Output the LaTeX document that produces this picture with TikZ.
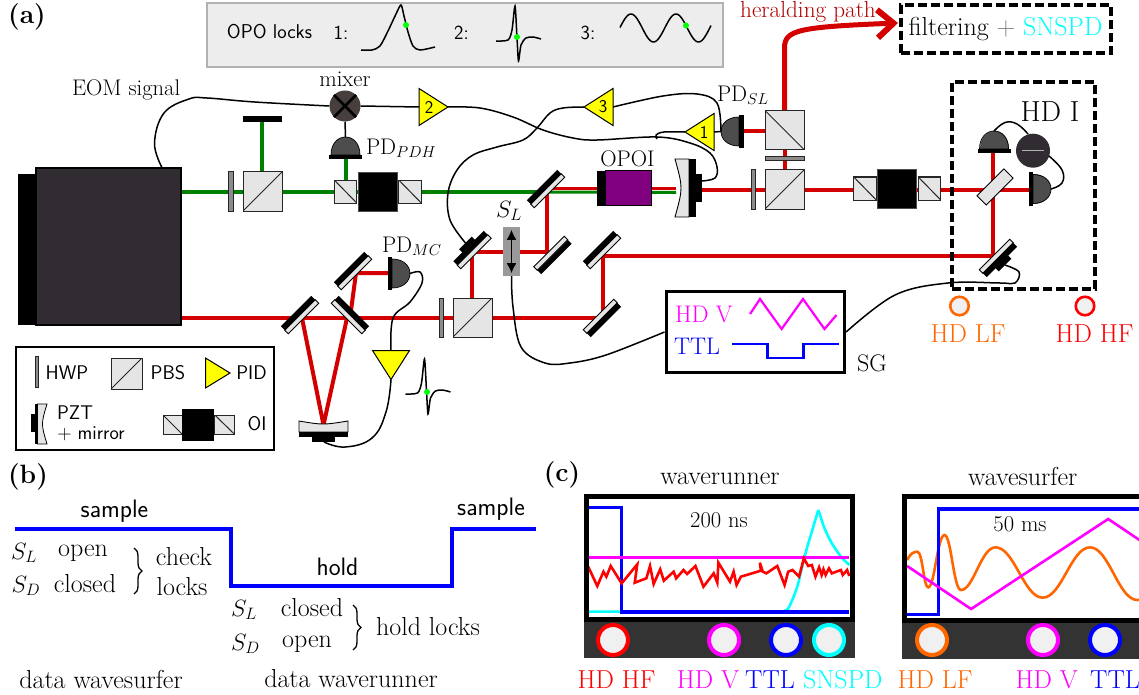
\RequirePackage{fix-cm}
\documentclass[tikz,border=0pt]{standalone}
\usetikzlibrary{calc,decorations.pathreplacing,arrows.meta}
\newcommand\fz[1]{\fontsize{#1}{#1}\selectfont}
\definecolor{rbeam}{HTML}{D40000}
\definecolor{gbeam}{HTML}{007F00}
\definecolor{cubeg}{HTML}{E5E5E5}
\definecolor{dome}{HTML}{4D4D4D}
\definecolor{orng}{HTML}{FF6600}
\definecolor{herald}{HTML}{B00000}
\definecolor{dotg}{HTML}{00FF00}
\definecolor{mixerc}{HTML}{483E3E}
\definecolor{laserc}{HTML}{302C32}
\definecolor{oporp}{HTML}{800080}
\definecolor{cyn}{RGB}{0,255,255}
\definecolor{mag}{RGB}{255,0,255}
\definecolor{yel}{RGB}{255,255,0}
\definecolor{blu}{RGB}{0,0,255}
\definecolor{rd}{RGB}{255,0,0}
\tikzset{
  redbeam/.style={draw=rbeam,line width=4pt},
  greenbeam/.style={draw=gbeam,line width=4pt},
  wire/.style={draw=black,line width=1.5pt},
  txt/.style={inner sep=0pt,outer sep=0pt},
  sr/.style={txt,font=\fz{22.6}},
  srb/.style={txt,font=\fz{26}},
  smath/.style={txt,font=\fz{23.6}},
  sn/.style={txt,font=\sffamily\fz{19.8}},
  cube/.style={draw=black!85,line width=1pt,fill=cubeg,inner sep=0pt},
  pbsa/.style={cube,minimum size=39pt,path picture={\draw[line width=1pt] (path picture bounding box.south west)--(path picture bounding box.north east);}},
  pbsb/.style={cube,minimum size=39pt,path picture={\draw[line width=1pt] (path picture bounding box.north west)--(path picture bounding box.south east);}},
  oicube/.style={cube,minimum width=22.5pt,minimum height=23pt,path picture={\draw[line width=1pt] (path picture bounding box.north west)--(path picture bounding box.south east);}},
  oibody/.style={fill=black,draw=black!70,line width=.6pt,minimum width=39.5pt,minimum height=39pt,inner sep=0pt},
  waveplate/.style={draw=black!85,line width=1pt,fill=black!45,inner sep=0pt},
  dashbox/.style={draw=black,line width=4pt,dash pattern=on 9pt off 4pt,inner sep=0pt},
  trace/.style={line width=2.6pt},
  bluetrace/.style={draw=blu,line width=3.2pt},
  lockcurve/.style={draw=black,line width=1.5pt},
  gdot/.style={fill=dotg,circle,inner sep=0pt,minimum size=6pt},
  port/.style={circle,fill=black!6,draw=#1,line width=4pt,minimum size=30pt,inner sep=0pt},
  sport/.style={circle,fill=black!6,draw=#1,line width=2.6pt,minimum size=18.5pt,inner sep=0pt},
}
% name x y angle side(+1/-1)
\newcommand\mirrorm[5]{\begin{scope}[shift={(#2,#3)},rotate=#4]
  \fill[black] (-21.5,0) rectangle (21.5,{#5*5.5});
  \filldraw[fill=cubeg,draw=black,line width=.9pt] (-21.5,0) rectangle (21.5,{-#5*5});
  \coordinate (#1) at (0,0);
\end{scope}}
\newcommand\mirrorp[5]{\begin{scope}[shift={(#2,#3)},rotate=#4]
  \fill[black] (-9,{#5*5}) rectangle (9,{#5*10});
  \coordinate (#1-p) at (0,{#5*10});
\end{scope}\mirrorm{#1}{#2}{#3}{#4}{#5}}
% photodiode
\newcommand\pdiode[4]{\begin{scope}[shift={(#2,#3)},rotate=#4]
  \filldraw[fill=dome,draw=black,line width=.7pt] (-14.5,0) .. controls (-14.5,-24) and (14.5,-24) .. (14.5,0) -- cycle;
  \fill[black] (-16.5,0) rectangle (16.5,4.5);
  \coordinate (#1) at (0,0);\coordinate (#1-t) at (0,-18);\coordinate (#1-b) at (0,4.5);
\end{scope}}
% PID amplifier
\newcommand\pidamp[5]{\begin{scope}[shift={(#2,#3)},rotate=#4]
  \filldraw[fill=yel,draw=black,line width=1pt,line join=miter] (0,0) -- (-29,-18.5) -- (-29,18.5) -- cycle;
  \coordinate (#1) at (0,0);\coordinate (#1-b) at (-29,0);
  \node[txt,font=\sffamily\fz{18}] (#1-l) at (-19,0) {#5};
\end{scope}}
\newcommand\errcurve[2]{\begin{scope}[shift={(#1,#2)}]
  \draw[lockcurve] plot[smooth,tension=.45] coordinates {(0,0) (12,-1) (16,-11) (19,-35) (21,-3) (22.5,20) (25,4) (30,-3) (37,-4) (45,-2)};
\end{scope}}
\begin{document}
\begin{tikzpicture}[x=1pt,y=-1pt]
\useasboundingbox (0,0) rectangle (1139,695);
\begin{scope}
\clip (0,0) rectangle (1139,695);
%--- panel labels
\node[txt,font=\bfseries\fz{26.5}] (la) at (27,17) {(a)};
\node[txt,font=\bfseries\fz{26.5}] (lb) at (28,477) {(b)};
\node[txt,font=\bfseries\fz{26.5}] (lc) at (562,475) {(c)};
%--- OPO lock box
\node[draw=black!30,fill=black!7,line width=1.2pt,minimum width=516pt,minimum height=64pt,inner sep=0pt] (lockbox) at (465,35) {};
\node[txt,font=\sffamily\fz{20}] (opolocks) at (269.5,32) {OPO locks};
\node[txt,font=\sffamily\fz{20}] (l1) at (341,33) {1:};
\node[txt,font=\sffamily\fz{20}] (l2) at (461.5,33) {2:};
\node[txt,font=\sffamily\fz{20}] (l3) at (588,33) {3:};
\draw[lockcurve] plot[smooth,tension=.45] coordinates {(361,50) (372,50) (380,46) (388,31) (396,14) (401,5) (404,16) (408,32) (413,46) (420,50) (435,47)};
\errcurve{496}{41}
\draw[lockcurve] plot[domain=620:711,samples=70] (\x,{28-14*cos(8*(\x-631))});
\node[gdot] (d1) at (406,25) {};
\node[gdot] (d2) at (517,37) {};
\node[gdot] (d3) at (686,25.5) {};
%--- free beam coordinates
\coordinate (lg) at (181,192);
\coordinate (lr) at (181,318);
\coordinate (dumpc) at (262,122);
\coordinate (mg) at (547,192);
\coordinate (mr) at (547,188);
\coordinate (c1) at (546.7,252);
\coordinate (c2) at (472,252);
\coordinate (c3) at (603,255.5);
\coordinate (c4) at (603,318);
\coordinate (c5) at (993,255.5);
\coordinate (c6) at (356,273);
\coordinate (mca) at (302,318);
\coordinate (mcb) at (347,318);
\coordinate (mcc) at (323.5,425);
\coordinate (mcd) at (358,273);
\coordinate (opol) at (676,188);
\coordinate (opog) at (676,192.5);
\coordinate (hdr) at (1029,189.5);
%--- beams
\draw[greenbeam] (lg) -- (mg);
\draw[greenbeam] (262,192) -- (dumpc);
\draw[greenbeam] (345.5,192) -- (345.5,159);
\draw[draw=gbeam,line width=3pt] (mg) -- (opog);
\draw[draw=rbeam,line width=3pt] (mr) -- (opol);
\draw[redbeam] (546.7,188) -- (c1) -- (c2) -- (472,300);
\draw[redbeam] (lr) -- (c4) -- (c3) -- (c5) -- (993,153);
\draw[redbeam,line width=4pt] (mca) -- (mcc) -- (mcb);
\draw[redbeam] (350,318) -- (c6) -- (390,273);
\draw[redbeam] (696,189.5) -- (hdr);
\draw[redbeam] (784.5,172) -- (784.5,148);
\draw[redbeam] (743,131.5) -- (766,131.5);
\draw[draw=rbeam,line width=5pt,-{Straight Barb[length=16pt,width=28pt,line width=6pt]}] (784.5,112) -- (784.5,48) .. controls (784.5,30) and (798,27) .. (898,23);
%--- laser
\fill[black] (18,174) rectangle (40,325);
\node[fill=laserc,draw=black,line width=1.6pt,minimum width=145pt,minimum height=157pt,inner sep=0pt] (laser) at (108.5,246.5) {};
%--- upper green line parts
\node[waveplate,minimum width=5pt,minimum height=39pt] (hwp1) at (230.5,191.5) {};
\node[pbsa] (pbs1) at (262.5,191.5) {};
\node[fill=black,minimum width=39pt,minimum height=6.5pt,inner sep=0pt] (dump) at (262.5,119) {};
\node[oicube] (oi1a) at (345.5,191.5) {};
\node[oicube] (oi1c) at (410,191.5) {};
\node[oibody] (oi1b) at (377.75,191.5) {};
\pdiode{pdh}{345.5}{155}{0}
\node[circle,fill=mixerc,draw=none,minimum size=31pt,inner sep=0pt] (mixer) at (345,106) {};
\draw[line width=2.6pt] (mixer.north west) -- (mixer.south east);
\draw[line width=2.6pt] (mixer.north east) -- (mixer.south west);
\draw[wire] (mixer.south) -- (pdh-t);
\node[sr] (mixt) at (345,79) {mixer};
\node[sr,anchor=west] (pdht) at (366,148) {PD$_{PDH}$};
\node[sr,anchor=west] (eom) at (72,90) {EOM signal};
%--- mirrors
\mirrorm{m1}{546}{189}{45}{-1}
\mirrorm{m2}{552.5}{255}{45}{1}
\mirrorm{m3}{602}{250}{45}{-1}
\mirrorm{m4}{602}{318}{45}{1}
\mirrorp{m5}{472.5}{250}{45}{-1}
\mirrorm{mca1}{300}{315}{45}{-1}
\mirrorm{mcb1}{350}{315}{-45}{-1}
\mirrorm{mcc1}{353}{271}{45}{-1}
\mirrorp{m6}{998}{258}{45}{1}
%--- shutter
\node[fill=black!40,minimum width=17pt,minimum height=49pt,inner sep=0pt] (sl) at (511.5,251.5) {};
\draw[line width=1.6pt,{Latex[length=10pt,width=10pt]}-{Latex[length=10pt,width=10pt]}] ($(sl.north)+(0,3)$) -- ($(sl.south)+(0,-3)$);
\node[smath] (slt) at (509,211) {$S_L$};
%--- PBS on lower line
\node[waveplate,minimum width=4pt,minimum height=39pt] (hwp2) at (441,317.5) {};
\node[pbsa] (pbs2) at (472.5,317.5) {};
%--- mode cleaner
\pdiode{pdmc}{392}{273.5}{-90}
\node[sr,anchor=west] (pdmct) at (382,246) {PD$_{MC}$};
\filldraw[fill=cubeg,draw=black,line width=.9pt] (299,421) .. controls (323,425) .. (348,421) -- (348,432) -- (299,432) -- cycle;
\fill[black] (299,432) rectangle (348,437);
\fill[black] (312,437) rectangle (335,442);
\coordinate (mcpzt) at (324,442);
\pidamp{pidmc}{391}{379.5}{-90}{}
\errcurve{405.5}{394}
\node[gdot] (d4) at (427,392) {};
%--- OPO
\node[fill=black,minimum width=8pt,minimum height=35pt,inner sep=0pt] (opob) at (601,188.2) {};
\node[fill=oporp,draw=black,line width=1pt,minimum width=46pt,minimum height=35pt,inner sep=0pt] (opo) at (628,188.2) {};
\node[sr] (opot) at (627.5,159) {OPOI};
\filldraw[fill=cubeg,draw=black,line width=.9pt] (675,159) .. controls (683,188) .. (675,217) -- (689,217) -- (689,159) -- cycle;
\fill[black] (689,159) rectangle (696,217);
\fill[black] (696,174) rectangle (702,202);
\coordinate (opopzt) at (702,181);
%--- wires below the amplifiers
\draw[wire] plot[smooth,tension=.6] coordinates {(448,107) (480,108) (513,117) (543,130) (573,138) (597,140) (657,137) (690,143) (710,153) (717,167) (715,178) (opopzt)};
\draw[wire] plot[smooth,tension=.6] coordinates {(685,132) (664,132) (656,135) (657,139)};
\draw[wire] plot[smooth,tension=.6] coordinates {(584,107) (563,108) (550,113) (537,128) (523,140) (497,147) (473,155) (457,170) (448,193) (450,220) (m5-p)};
%--- right optical table
\pdiode{pdsl}{739}{131.5}{90}
\node[sr,anchor=west] (pdslt) at (717,95) {PD$_{SL}$};
\pidamp{pid1}{685}{132}{180}{1}
\pidamp{pid3}{584}{107}{180}{3}
\pidamp{pid2}{448}{107}{0}{2}
\node[pbsb] (pbs3) at (784.5,130) {};
\node[waveplate,minimum width=39pt,minimum height=4.5pt] (hwp3) at (784.5,158.5) {};
\node[pbsa] (pbs4) at (784.5,189.5) {};
\node[waveplate,minimum width=4pt,minimum height=39pt] (hwp4) at (753,189.5) {};
\node[oicube] (oi2a) at (865,188.5) {};
\node[oicube] (oi2c) at (929.5,188.5) {};
\node[oibody] (oi2b) at (896.75,188.5) {};
%--- HD I
\node[dashbox,minimum width=143pt,minimum height=207pt] (hdbox) at (1023.5,185.5) {};
\node[txt,font=\fz{29}] (hdt) at (1050,112) {HD I};
\pdiode{pdt}{994}{149}{0}
\pdiode{pdr}{1033}{189}{-90}
\begin{scope}[shift={(995,187)},rotate=45]
  \filldraw[fill=cubeg,draw=black,line width=.9pt] (-19,-6.5) rectangle (19,6.5);
  \coordinate (hdbs) at (0,0);
\end{scope}
\node[circle,fill=laserc,draw=none,minimum size=34pt,inner sep=0pt] (diff) at (1033,150.7) {};
\draw[draw=black!30,line width=1.5pt] ($(diff.center)+(-11,0)$) -- ($(diff.center)+(11,0)$);
%--- filter box
\node[dashbox,minimum width=210pt,minimum height=48pt,font=\fz{26}] (filt) at (1005.5,29) {filtering $\textcolor{gray}{+}$ \textcolor{cyn}{SNSPD}};
\node[txt,font=\fz{23.2},text=herald] (her) at (808,12) {heralding path};
%--- SG
\node[draw=black,line width=3.6pt,minimum width=178pt,minimum height=81pt,inner sep=0pt] (sg) at (755.3,332) {};
\node[txt,font=\fz{24},text=mag,anchor=west] (sghd) at (675,314) {HD V};
\node[txt,font=\fz{24},text=blu,anchor=west] (sgttl) at (674,346) {TTL};
\node[txt,font=\fz{24}] (sgt) at (872,363) {SG};
\draw[mag,line width=2.2pt] (750,314) -- (760,299) -- (781.6,329) -- (803,299) -- (824.5,329) -- (836.5,315);
\draw[blu,line width=2.2pt] (732,344) -- (767.5,344) -- (767.5,358) -- (803.5,358) -- (803.5,344) -- (839,344);
%--- HD ports
\node[sport=orng] (plf) at (959.5,306) {};
\node[sport=rd] (phf) at (1085,306) {};
\node[srb,text=orng] (plft) at (968,334) {HD LF};
\node[srb,text=rd] (phft) at (1094.5,334) {HD HF};
%--- legend
\node[draw=black,line width=1.8pt,minimum width=258pt,minimum height=103pt,inner sep=0pt] (leg) at (145.3,398.5) {};
\node[waveplate,minimum width=3pt,minimum height=31pt] (lh) at (36.5,371.5) {};
\node[sn] (lht) at (67,373) {HWP};
\node[pbsa,minimum size=31pt] (lp) at (126.5,373.5) {};
\node[sn] (lpt) at (168,373) {PBS};
\filldraw[fill=yel,draw=black,line width=1pt] (230,373) -- (205.5,358) -- (205.5,388) -- cycle;
\node[sn] (lpid) at (251.5,373) {PID};
\filldraw[fill=cubeg,draw=black,line width=.8pt] (47,404) .. controls (41,424) .. (47,444) -- (37.5,444) -- (37.5,404) -- cycle;
\fill[black] (35,404) rectangle (37.5,444);
\fill[black] (31,414) rectangle (35,432);
\node[sn] (lpz) at (75,413) {PZT};
\node[sn] (lmi) at (91,434) {$+$ mirror};
\node[oicube,minimum width=19pt,minimum height=19pt] (loa) at (172.5,424.5) {};
\node[oicube,minimum width=19.5pt,minimum height=19pt] (loc) at (224.5,424.5) {};
\node[oibody,minimum width=32.5pt,minimum height=32pt,draw=none] (lob) at (198.2,425) {};
\node[sn] (lot) at (257,424) {OI};
%--- wires
\coordinate (lw) at ($(laser.north east)+(-20,0)$);
\draw[wire] plot[smooth,tension=.65] coordinates {(lw) (154.5,143) (164,113) (189,99) (207,98) (254.5,102) (mixer.west)};
\draw[wire] (mixer.east) -- (pid2-b);
\draw[wire] plot[smooth,tension=.6] coordinates {(pid3-b) (663,96) (697,94) (717,103) (pdsl-t)};
\draw[wire] (pid1-b) -- (pdsl-t);
\draw[wire] plot[smooth,tension=.6] coordinates {(pdmc-t) (420,272) (422,283) (410,302) (393,318) (pidmc-b)};
\draw[wire] plot[smooth,tension=.7] coordinates {(pidmc) (386,412) (372,438) (345,447) (mcpzt)};
\draw[wire] plot[smooth,tension=.6] coordinates {(sl.south) (513,307) (521,347) (545,363) (570,363) (606,355) (sg.west)};
\draw[wire] plot[smooth,tension=.6] coordinates {(sg.east) (895,295) (948,283) (1000,283) (1015,283) (1019,272) (m6-p)};
\draw[wire] plot[smooth,tension=.7] coordinates {(pdt-t) (1005,122.5) (1017,124) (1028,134)};
\draw[wire] plot[smooth,tension=.7] coordinates {(1049,156) (1062,170) (1062,183) (pdr-t)};
%--- panel b
\draw[blu,line width=4pt] (14.5,529) -- (231,529) -- (231,585.7) -- (452,585.7) -- (452,529) -- (535.6,529);
\node[txt,font=\sffamily\fz{25.2}] (s1) at (114.5,511) {sample};
\node[txt,font=\sffamily\fz{25.2}] (h1) at (337.5,567) {hold};
\node[txt,font=\sffamily\fz{25.2}] (s2) at (491,509) {sample};
\node[smath] (bsl) at (24,553) {$S_L$};
\node[srb] (bop) at (83,553) {open};
\node[smath] (bsd) at (26,586) {$S_D$};
\node[srb] (bcl) at (85,584) {closed};
\draw[line width=1.3pt,decorate,decoration={brace,amplitude=8pt}] (134,548) -- (134,594);
\node[srb] (bch) at (184,557) {check};
\node[srb] (blo) at (182,587) {locks};
\node[smath] (bsl2) at (244,610) {$S_L$};
\node[srb] (bcl2) at (312,608) {closed};
\node[smath] (bsd2) at (245.5,644) {$S_D$};
\node[srb] (bop2) at (307,644) {open};
\draw[line width=1.3pt,decorate,decoration={brace,amplitude=8pt}] (353,605) -- (353,650);
\node[srb] (bhl) at (428,627) {hold locks};
\node[srb] (bdw) at (101,679) {data wavesurfer};
\node[srb] (bdr) at (351,679) {data waverunner};
%--- panel c
\node[txt,font=\fz{26}] (wr) at (720,479) {waverunner};
\node[txt,font=\fz{26}] (ws) at (1022.7,476) {wavesurfer};
\fill[black!80] (583.5,622) rectangle (855,658);
\fill[black!80] (902,622) rectangle (1139,659);
\begin{scope}[shift={(570pt,-460pt)},x=0.36364pt,y=-0.33333pt]
  \draw[cyn,trace] plot[smooth,tension=.35] coordinates {(50,455) (540,455) (590,453) (603,440) (625,380) (650,270) (683,150)};
  \draw[cyn,trace] plot[smooth,tension=.4] coordinates {(683,150) (700,205) (720,250) (745,290) (768,315)};
  \draw[bluetrace] (50,143) -- (142,143) -- (142,456) -- (768,456);
  \draw[mag,trace] (50,293) -- (768,293);
  \draw[rd,trace] (50,320) -- (75,378) -- (92,335) -- (100,350) -- (112,318) -- (142,370) -- (185,313) -- (178,368) -- (210,355) -- (220,318) -- (230,372) -- (248,328) -- (258,362) -- (285,335) -- (292,355) -- (312,330) -- (322,342) -- (345,318) -- (367,380) -- (395,340) -- (405,368) -- (408,308) -- (440,365) -- (450,335) -- (458,375) -- (470,350) -- (525,332) -- (522,308) -- (530,335) -- (540,340) -- (570,318) -- (590,375) -- (600,335) -- (612,330) -- (630,350) -- (643,295) -- (655,318) -- (665,315) -- (675,350) -- (685,322) -- (692,345) -- (697,328) -- (703,345) -- (712,325) -- (720,340) -- (745,330) -- (750,345) -- (762,330) -- (768,348);
  \draw[orng,trace] (927,300) .. controls (935,282) and (945,275) .. (955,275) .. controls (970,275) and (972,382) .. (985,382) .. controls (1003,382) and (1010,225) .. (1030,225) .. controls (1048,225) and (1055,390) .. (1075,390) .. controls (1110,390) and (1130,262) .. (1170,262) .. controls (1222,262) and (1248,413) .. (1300,413) .. controls (1352,413) and (1378,262) .. (1430,262) .. controls (1482,262) and (1508,420) .. (1560,420) .. controls (1580,420) and (1590,405) .. (1600,390);
  \draw[bluetrace] (927,463) -- (1014,463) -- (1014,147) -- (1600,147);
  \draw[mag,trace] (927,318) -- (1103,447) -- (1480,177) -- (1600,265);
\end{scope}
\draw[black,line width=5pt] (586,496) rectangle (852,619.5);
\draw[black,line width=5pt] (904.5,496.5) rectangle (1150,620);
\node[txt,font=\fz{22.6}] (t200) at (719,520) {200 ns};
\node[txt,font=\fz{22.6}] (t50) at (1020,524) {50 ms};
\node[port=rd] (c1hf) at (613,640) {};
\node[port=mag] (c1v) at (724,640) {};
\node[port=blu] (c1t) at (786,640) {};
\node[port=cyn] (c1s) at (829,640) {};
\node[port=orng] (c2lf) at (932,640) {};
\node[port=mag] (c2v) at (1043,640) {};
\node[port=blu] (c2t) at (1105,640) {};
\node[srb,text=rd] (tc1) at (616.5,680) {HD HF};
\node[srb,text=mag] (tc2) at (708,680) {HD V};
\node[srb,text=blu] (tc3) at (770,680) {TTL};
\node[srb,text=cyn] (tc4) at (842.8,680) {SNSPD};
\node[srb,text=orng] (tc5) at (935,680) {HD LF};
\node[srb,text=mag] (tc6) at (1046.7,680) {HD V};
\node[srb,text=blu] (tc7) at (1115,680) {TTL};
\end{scope}
\end{tikzpicture}
\end{document}
